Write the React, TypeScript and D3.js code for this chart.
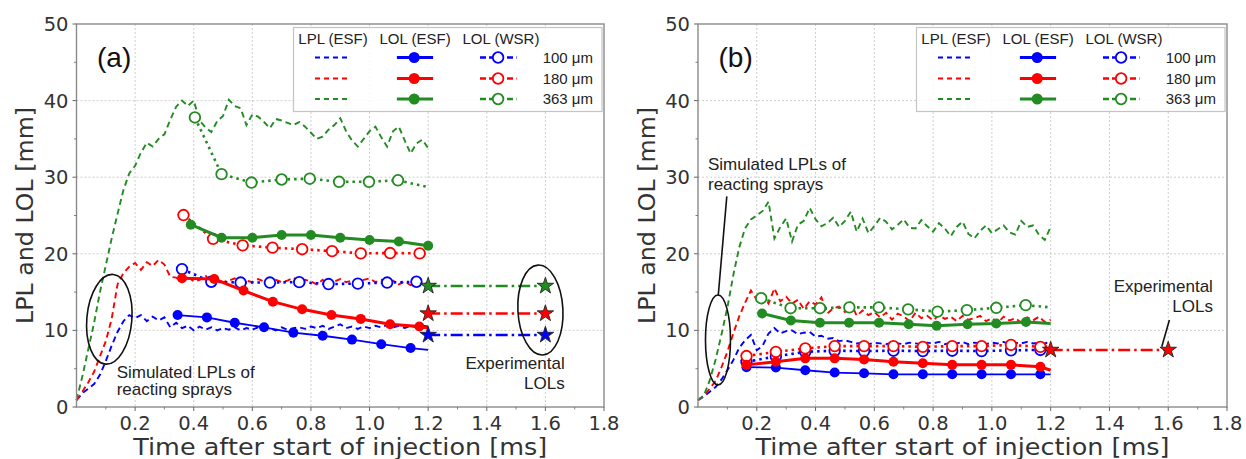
import React from 'react';
import * as d3 from 'd3';

// ---------------- data ----------------
const X_TICKS = [0.2, 0.4, 0.6, 0.8, 1.0, 1.2, 1.4, 1.6, 1.8];
const X_TICK_LABELS = ['0.2', '0.4', '0.6', '0.8', '1.0', '1.2', '1.4', '1.6', '1.8'];
const X_MINOR = [0.1, 0.3, 0.5, 0.7, 0.9, 1.1, 1.3, 1.5, 1.7];
const Y_TICKS = [0, 10, 20, 30, 40, 50];
const Y_TICK_LABELS = ['0', '10', '20', '30', '40', '50'];
const Y_MINOR = [5, 15, 25, 35, 45];
const SIZES = ['100 μm', '180 μm', '363 μm'];
const HEADERS = ['LPL (ESF)', 'LOL (ESF)', 'LOL (WSR)'];

const T_LPL = [
  0, 0.02, 0.04, 0.06, 0.08, 0.1, 0.12, 0.14, 0.16, 0.18,
  0.2, 0.22, 0.24, 0.26, 0.28, 0.3, 0.32, 0.34, 0.36, 0.38,
  0.4, 0.42, 0.44, 0.46, 0.48, 0.5, 0.52, 0.54, 0.56, 0.58,
  0.6, 0.62, 0.64, 0.66, 0.68, 0.7, 0.72, 0.74, 0.76, 0.78,
  0.8, 0.82, 0.84, 0.86, 0.88, 0.9, 0.92, 0.94, 0.96, 0.98,
  1.0, 1.02, 1.04, 1.06, 1.08, 1.1, 1.12, 1.14, 1.16, 1.18,
  1.2,
];

// Panel (a) LPL (ESF)
const LPL_A_BLUE = [
  0.9, 1.8, 2.4, 3.0, 4.2, 6.0, 8.0, 9.8, 11.2, 12.0,
  11.6, 12.0, 11.2, 11.8, 11.3, 11.7, 10.4, 11.0, 10.3, 10.6,
  10.0, 10.5, 10.1, 10.4, 10.0, 10.3, 10.1, 10.4, 10.0, 10.3,
  10.1, 10.4, 10.2, 10.3, 10.0, 10.4, 10.1, 10.3, 10.4, 10.2,
  10.5, 10.3, 10.6, 10.2, 10.5, 10.8, 10.3, 10.5, 10.2, 10.5,
  10.3, 10.6, 10.4, 10.7, 10.4, 10.6, 10.3, 10.6, 10.4, 10.6,
  10.5,
];
const LPL_A_RED = [
  0.9, 2.0, 3.2, 4.6, 6.6, 8.6, 11.5, 16.0, 17.5, 18.3,
  18.8, 17.9, 18.9, 18.4, 19.2, 18.6, 17.0, 16.9, 16.3, 17.0,
  16.4, 16.6, 17.2, 16.2, 16.6, 16.3, 16.5, 16.8, 16.2, 16.5,
  16.3, 16.7, 16.4, 16.2, 16.6, 16.3, 16.5, 16.9, 16.3, 16.6,
  16.4, 16.0, 16.6, 15.8, 16.4, 16.7, 16.3, 16.5, 16.2, 16.6,
  16.8, 16.3, 16.6, 16.1, 16.5, 16.0, 16.4, 15.9, 16.3, 16.0,
  16.2,
];
const LPL_A_GREEN = [
  0.9, 4.0, 7.5, 11.0, 15.0, 18.5, 22.0, 25.2, 28.3, 30.5,
  31.5, 33.2, 34.5, 34.0, 35.0, 35.6, 37.5, 39.2, 40.0, 39.3,
  40.0, 37.4, 36.5, 35.9, 37.3, 38.0, 40.1, 39.3, 39.0, 36.8,
  38.2, 37.9, 37.2, 36.4, 37.6, 37.4, 37.1, 36.8, 37.2, 36.6,
  35.8, 35.0, 35.3, 36.2, 36.8, 37.7, 36.0, 34.8, 34.0, 35.0,
  36.0, 36.6, 35.2, 34.0, 36.0, 36.6, 34.8, 33.1, 34.4, 34.9,
  33.8,
];

// Panel (b) LPL (ESF)
const LPL_B_BLUE = [
  0.9, 1.4, 2.0, 2.6, 3.6, 4.8, 6.1, 7.7, 8.7, 9.4,
  7.4, 8.0, 9.6, 10.3, 9.6, 9.9, 10.0, 9.5, 9.7, 9.8,
  9.2, 9.3, 8.9, 9.0, 8.6, 8.7, 8.5, 8.3, 8.4, 8.2,
  8.4, 8.3, 8.2, 8.4, 8.3, 8.2, 8.4, 8.3, 8.2, 8.4,
  8.3, 8.5, 8.2, 8.4, 8.3, 8.5, 8.2, 8.4, 8.3, 8.2,
  8.4, 8.3, 8.5, 8.2, 8.4, 8.3, 8.5, 8.3, 8.4, 8.3,
  8.5,
];
const LPL_B_RED = [
  0.9, 1.5, 2.4, 3.4, 5.2, 7.2, 9.6, 11.8, 13.6, 15.2,
  14.0, 14.6, 13.5, 15.5, 13.8, 14.4, 13.5, 14.0, 12.8, 13.8,
  13.4, 14.3, 12.2, 12.9, 13.1, 12.4, 13.6, 11.9, 12.6, 12.0,
  12.4, 11.7, 12.3, 11.4, 12.2, 11.8, 11.2, 12.3, 11.6, 11.9,
  11.3, 12.0, 11.5, 11.8, 11.2, 11.9, 11.4, 11.6, 11.9, 11.2,
  11.6, 11.0, 11.8, 11.3, 11.6, 11.0, 11.7, 11.3, 11.8, 11.1,
  11.4,
];
const LPL_B_GREEN = [
  0.9, 1.5, 3.5, 6.2, 9.5, 13.0, 17.2, 20.8, 23.3, 24.5,
  25.0, 25.6, 26.8, 22.0, 23.5, 24.6, 21.6, 23.8, 24.3, 26.0,
  24.5, 23.6, 24.0, 24.7, 23.5, 24.3, 25.5, 22.9, 24.6, 22.7,
  23.6, 24.7, 24.2, 23.2, 23.8, 24.5, 23.4, 23.3, 24.4, 23.6,
  22.9, 24.0, 23.3, 22.3, 23.5, 24.2, 22.6, 22.0, 23.0, 23.7,
  22.7, 23.2, 23.7, 22.8, 22.5, 24.3, 23.5, 23.7, 22.5, 21.8,
  23.5,
];

// Panel (a) LOL (ESF)
const ESF_A_BLUE_T = [0.345, 0.445, 0.54, 0.64, 0.74, 0.84, 0.94, 1.04, 1.14];
const ESF_A_BLUE_V = [12.0, 11.7, 11.0, 10.4, 9.7, 9.3, 8.8, 8.2, 7.7];
const ESF_A_BLUE_END = [1.2, 7.45];
const ESF_A_RED_T = [0.36, 0.47, 0.57, 0.67, 0.77, 0.87, 0.97, 1.07, 1.17];
const ESF_A_RED_V = [16.8, 16.7, 15.2, 13.75, 12.75, 12.0, 11.5, 10.8, 10.5];
const ESF_A_RED_END = [1.2, 10.3];
const ESF_A_GREEN_T = [0.39, 0.495, 0.6, 0.7, 0.8, 0.9, 1.0, 1.1, 1.2];
const ESF_A_GREEN_V = [23.8, 22.1, 22.1, 22.45, 22.45, 22.1, 21.8, 21.6, 21.05];

// Panel (a) LOL (WSR)
const WSR_A_BLUE_T = [0.36, 0.46, 0.56, 0.66, 0.76, 0.86, 0.96, 1.06, 1.16];
const WSR_A_BLUE_V = [18.0, 16.35, 16.25, 16.25, 16.3, 16.05, 16.1, 16.25, 16.35];
const WSR_A_RED_T = [0.365, 0.466, 0.567, 0.669, 0.77, 0.872, 0.97, 1.07, 1.171];
const WSR_A_RED_V = [25.06, 21.95, 21.1, 20.8, 20.6, 20.35, 20.06, 20.1, 20.06];
const WSR_A_GREEN_T = [0.404, 0.495, 0.597, 0.7, 0.796, 0.896, 0.998, 1.097];
const WSR_A_GREEN_V = [37.8, 30.4, 29.3, 29.7, 29.8, 29.4, 29.4, 29.6];
const WSR_A_GREEN_END = [1.194, 28.75];

// Panel (a) experimental LOLs
const STAR_T = [1.2, 1.6];
const EXP_A_BLUE = 9.4;
const EXP_A_RED = 12.2;
const EXP_A_GREEN = 15.8;

// Panel (b) LOL (ESF)
const ESF_B_GREEN_T = [0.218, 0.316, 0.415, 0.514, 0.616, 0.717, 0.812, 0.917, 1.015, 1.116];
const ESF_B_GREEN_V = [12.2, 11.3, 11.0, 11.0, 11.0, 10.8, 10.6, 10.8, 10.9, 11.1];
const ESF_B_GREEN_END = [1.2, 10.9];
const B_T = [0.165, 0.265, 0.365, 0.465, 0.565, 0.665, 0.765, 0.865, 0.965, 1.065, 1.165];
const ESF_B_RED_V = [5.5, 5.9, 6.35, 6.35, 6.2, 5.9, 5.7, 5.5, 5.5, 5.5, 5.25];
const ESF_B_RED_END = [1.2, 4.8];
const ESF_B_BLUE_V = [5.2, 5.15, 4.8, 4.5, 4.4, 4.27, 4.27, 4.27, 4.27, 4.27, 4.27];
const ESF_B_BLUE_END = [1.2, 4.27];

// Panel (b) LOL (WSR)
const WSR_B_GREEN_T = [0.215, 0.315, 0.415, 0.515, 0.615, 0.715, 0.815, 0.915, 1.015, 1.115];
const WSR_B_GREEN_V = [14.2, 12.9, 12.9, 13.0, 13.0, 12.75, 12.45, 12.65, 12.95, 13.3];
const WSR_B_GREEN_END = [1.2, 13.0];
const WSR_B_RED_V = [6.65, 7.2, 7.65, 7.95, 7.95, 7.95, 7.85, 7.95, 7.95, 8.1, 7.85];
const WSR_B_RED_END = [1.2, 7.9];
const WSR_B_BLUE_V = [5.9, 6.6, 7.2, 7.35, 7.3, 7.35, 7.3, 7.35, 7.3, 7.4, 7.45];
const WSR_B_BLUE_END = [1.2, 7.4];

// Panel (b) experimental LOL
const EXP_B_RED = 7.45;

// ---------------- styling ----------------
const BLUE = '#0000ff';
const RED = '#ff0000';
const GREEN = '#228b22';
const COLS = [BLUE, RED, GREEN];
const TICK_FONT = '"DejaVu Sans", sans-serif';
const ARIAL = '"Liberation Sans", Arial, sans-serif';
const TOP = 24;
const BOTTOM = 407;

type Pt = [number, number];
const zip = (t: number[], v: number[]): Pt[] => t.map((d, i) => [d, v[i]] as Pt);

interface Series { color: string; pts: Pt[]; end?: number[] | null; width?: number; }
interface PanelProps {
  left: number; right: number; label: string;
  lpl: Series[]; esf: Series[]; wsr: Series[];
  stars: { color: string; v: number }[];
  children?: (x: d3.ScaleLinear<number, number>, y: d3.ScaleLinear<number, number>) => React.ReactNode;
}

function Panel({ left, right, label, lpl, esf, wsr, stars, children }: PanelProps) {
  const x = d3.scaleLinear().domain([0, 1.8]).range([left, right]);
  const y = d3.scaleLinear().domain([0, 50]).range([BOTTOM, TOP]);
  const line = d3.line<Pt>().x(d => x(d[0])).y(d => y(d[1]));
  const starPath = d3.symbol().type(d3.symbolStar).size(85)() as string;
  const withEnd = (s: Series): Pt[] => (s.end ? [...s.pts, [s.end[0], s.end[1]] as Pt] : s.pts);

  const L = right - 310.5; // legend left
  const rowY = [57.5, 78.5, 99];

  return (
    <g>
      {/* grid */}
      {X_TICKS.slice(0, -1).map(t => (
        <line key={'gx' + t} x1={x(t)} x2={x(t)} y1={TOP} y2={BOTTOM} stroke="#c8c8c8" strokeWidth={0.9} strokeDasharray="2,2" />
      ))}
      {Y_TICKS.slice(1, -1).map(t => (
        <line key={'gy' + t} x1={left} x2={right} y1={y(t)} y2={y(t)} stroke="#c8c8c8" strokeWidth={0.9} strokeDasharray="2,2" />
      ))}

      {/* LPL */}
      {lpl.map((s, i) => (
        <path key={'lpl' + i} d={line(s.pts) as string} fill="none" stroke={s.color} strokeWidth={1.9} strokeDasharray="6,4" />
      ))}

      {/* WSR */}
      {wsr.map((s, i) => (
        <g key={'wsr' + i}>
          <path d={line(withEnd(s)) as string} fill="none" stroke={s.color} strokeWidth={2.6} strokeDasharray="2.5,4" />
          {s.pts.map((p, j) => (
            <circle key={j} cx={x(p[0])} cy={y(p[1])} r={5.3} fill="white" stroke={s.color} strokeWidth={1.8} />
          ))}
        </g>
      ))}

      {/* ESF */}
      {esf.map((s, i) => (
        <g key={'esf' + i}>
          <path d={line(withEnd(s)) as string} fill="none" stroke={s.color} strokeWidth={s.width ?? 3} />
          {s.pts.map((p, j) => (
            <circle key={j} cx={x(p[0])} cy={y(p[1])} r={5} fill={s.color} />
          ))}
        </g>
      ))}

      {/* experimental */}
      {stars.map((s, i) => (
        <g key={'st' + i}>
          <path d={line(STAR_T.map(t => [t, s.v] as Pt)) as string} fill="none" stroke={s.color} strokeWidth={2.6} strokeDasharray="12,4,2.5,4" />
          {STAR_T.map(t => (
            <path key={t} d={starPath} transform={`translate(${x(t)},${y(s.v)})`} fill={s.color} stroke="#222" strokeWidth={0.9} />
          ))}
        </g>
      ))}

      {children && children(x, y)}

      {/* frame */}
      <rect x={left} y={TOP} width={right - left} height={BOTTOM - TOP} fill="none" stroke="#8a8a8a" strokeWidth={1.4} />

      {/* ticks */}
      {X_TICKS.map((t, i) => (
        <g key={'xt' + t}>
          <line x1={x(t)} x2={x(t)} y1={BOTTOM} y2={BOTTOM + 4} stroke="#666" strokeWidth={1} />
          <text x={x(t)} y={429.5} textAnchor="middle" fontFamily={TICK_FONT} fontSize={19.5} fill="#333">{X_TICK_LABELS[i]}</text>
        </g>
      ))}
      {X_MINOR.map(t => (
        <line key={'xm' + t} x1={x(t)} x2={x(t)} y1={BOTTOM} y2={BOTTOM + 2.5} stroke="#666" strokeWidth={0.8} />
      ))}
      {Y_TICKS.map((t, i) => (
        <g key={'yt' + t}>
          <line x1={left - 4} x2={left} y1={y(t)} y2={y(t)} stroke="#666" strokeWidth={1} />
          <text x={left - 8} y={y(t) + 7} textAnchor="end" fontFamily={TICK_FONT} fontSize={19.5} fill="#333">{Y_TICK_LABELS[i]}</text>
        </g>
      ))}
      {Y_MINOR.map(t => (
        <line key={'ym' + t} x1={left - 2.5} x2={left} y1={y(t)} y2={y(t)} stroke="#666" strokeWidth={0.8} />
      ))}

      {/* axis titles */}
      <text x={(left + right) / 2} y={455} textAnchor="middle" fontFamily={TICK_FONT} fontSize={22.5} fill="#333"
        textLength={414} lengthAdjust="spacingAndGlyphs">
        Time after start of injection [ms]
      </text>
      <text transform={`translate(${left - 43.5},${(TOP + BOTTOM) / 2}) rotate(-90)`} textAnchor="middle" fontFamily={TICK_FONT} fontSize={23} fill="#333"
        textLength={217} lengthAdjust="spacingAndGlyphs">
        LPL and LOL [mm]
      </text>

      {/* panel label */}
      <text x={left + 20.5} y={67} fontFamily={ARIAL} fontSize={28} fill="#111">{label}</text>

      {/* legend */}
      <g>
        <rect x={L} y={27.5} width={308.5} height={84} fill="white" fillOpacity={0.85} stroke="#c4c4c4" strokeWidth={1.2} />
        <text x={L + 4.8} y={43.5} fontFamily={ARIAL} fontSize={15} fill="#222">{HEADERS[0]}</text>
        <text x={L + 86} y={43.5} fontFamily={ARIAL} fontSize={15} fill="#222">{HEADERS[1]}</text>
        <text x={L + 169} y={43.5} fontFamily={ARIAL} fontSize={15} fill="#222">{HEADERS[2]}</text>
        {COLS.map((c, i) => (
          <g key={'lg' + i}>
            <line x1={L + 21.5} x2={L + 56} y1={rowY[i]} y2={rowY[i]} stroke={c} strokeWidth={2} strokeDasharray="5,4" />
            <line x1={L + 103.4} x2={L + 139.6} y1={rowY[i]} y2={rowY[i]} stroke={c} strokeWidth={3} />
            <circle cx={L + 120.7} cy={rowY[i]} r={5.5} fill={c} />
            <line x1={L + 186.5} x2={L + 223} y1={rowY[i]} y2={rowY[i]} stroke={c} strokeWidth={2.4} strokeDasharray="6,3" />
            <circle cx={L + 204.6} cy={rowY[i]} r={5.3} fill="white" stroke={c} strokeWidth={1.8} />
            <text x={L + 299.5} y={rowY[i] + 5.3} textAnchor="end" fontFamily={ARIAL} fontSize={15} fill="#222">{SIZES[i]}</text>
          </g>
        ))}
      </g>
    </g>
  );
}

export default function App() {
  const lplA: Series[] = [
    { color: BLUE, pts: zip(T_LPL, LPL_A_BLUE) },
    { color: RED, pts: zip(T_LPL, LPL_A_RED) },
    { color: GREEN, pts: zip(T_LPL, LPL_A_GREEN) },
  ];
  const esfA: Series[] = [
    { color: BLUE, pts: zip(ESF_A_BLUE_T, ESF_A_BLUE_V), end: ESF_A_BLUE_END, width: 1.8 },
    { color: RED, pts: zip(ESF_A_RED_T, ESF_A_RED_V), end: ESF_A_RED_END },
    { color: GREEN, pts: zip(ESF_A_GREEN_T, ESF_A_GREEN_V) },
  ];
  const wsrA: Series[] = [
    { color: BLUE, pts: zip(WSR_A_BLUE_T, WSR_A_BLUE_V) },
    { color: RED, pts: zip(WSR_A_RED_T, WSR_A_RED_V) },
    { color: GREEN, pts: zip(WSR_A_GREEN_T, WSR_A_GREEN_V), end: WSR_A_GREEN_END },
  ];
  const starsA = [
    { color: GREEN, v: EXP_A_GREEN },
    { color: RED, v: EXP_A_RED },
    { color: BLUE, v: EXP_A_BLUE },
  ];

  const lplB: Series[] = [
    { color: BLUE, pts: zip(T_LPL, LPL_B_BLUE) },
    { color: RED, pts: zip(T_LPL, LPL_B_RED) },
    { color: GREEN, pts: zip(T_LPL, LPL_B_GREEN) },
  ];
  const esfB: Series[] = [
    { color: BLUE, pts: zip(B_T, ESF_B_BLUE_V), end: ESF_B_BLUE_END, width: 1.8 },
    { color: RED, pts: zip(B_T, ESF_B_RED_V), end: ESF_B_RED_END },
    { color: GREEN, pts: zip(ESF_B_GREEN_T, ESF_B_GREEN_V), end: ESF_B_GREEN_END },
  ];
  const wsrB: Series[] = [
    { color: BLUE, pts: zip(B_T, WSR_B_BLUE_V), end: WSR_B_BLUE_END },
    { color: RED, pts: zip(B_T, WSR_B_RED_V), end: WSR_B_RED_END },
    { color: GREEN, pts: zip(WSR_B_GREEN_T, WSR_B_GREEN_V), end: WSR_B_GREEN_END },
  ];
  const starsB = [{ color: RED, v: EXP_B_RED }];

  const annFont = { fontFamily: ARIAL, fontSize: 17, fill: '#222' } as const;

  return (
    <svg width={1246} height={459} style={{ position: 'absolute', left: 0, top: 0, background: 'white' }}>
      <rect width={1246} height={459} fill="white" />
      <Panel left={76.5} right={604} label="(a)" lpl={lplA} esf={esfA} wsr={wsrA} stars={starsA}>
        {(x, y) => (
          <g>
            <ellipse cx={0} cy={0} rx={22.5} ry={45} fill="none" stroke="#111" strokeWidth={1.6}
              transform={`translate(${x(0.112)},${y(11.45)}) rotate(5)`} />
            <text x={x(0.137)} y={y(3.8)} {...annFont}>Simulated LPLs of</text>
            <text x={x(0.137)} y={y(1.55)} {...annFont}>reacting sprays</text>
            <ellipse cx={0} cy={0} rx={22.5} ry={45} fill="none" stroke="#111" strokeWidth={1.6}
              transform={`translate(${x(1.583)},${y(12.66)}) rotate(-3)`} />
            <text x={x(1.666)} y={y(4.96)} textAnchor="end" {...annFont}>Experimental</text>
            <text x={x(1.666)} y={y(2.35)} textAnchor="end" {...annFont}>LOLs</text>
          </g>
        )}
      </Panel>
      <Panel left={698} right={1227} label="(b)" lpl={lplB} esf={esfB} wsr={wsrB} stars={starsB}>
        {(x, y) => (
          <g>
            <ellipse cx={x(0.068)} cy={y(8.75)} rx={12.5} ry={45} fill="none" stroke="#111" strokeWidth={1.6} />
            <line x1={x(0.069)} y1={y(14.6)} x2={x(0.098)} y2={y(27.5)} stroke="#111" strokeWidth={1.6} />
            <text x={x(0.034)} y={y(30.9)} {...annFont}>Simulated LPLs of</text>
            <text x={x(0.034)} y={y(28.3)} {...annFont}>reacting sprays</text>
            <line x1={x(1.578)} y1={y(7.87)} x2={x(1.604)} y2={y(11.36)} stroke="#111" strokeWidth={1.6} />
            <text x={x(1.752)} y={y(15.05)} textAnchor="end" {...annFont}>Experimental</text>
            <text x={x(1.752)} y={y(12.44)} textAnchor="end" {...annFont}>LOLs</text>
          </g>
        )}
      </Panel>
    </svg>
  );
}
